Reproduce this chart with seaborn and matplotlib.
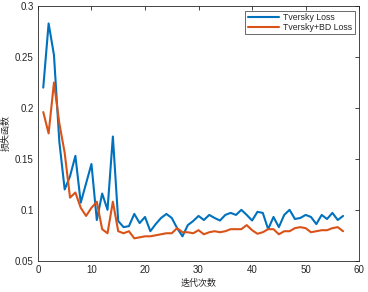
import pandas as pd
import numpy as np
import matplotlib.pyplot as plt
import seaborn as sns

epochs = list(range(1, 58))

tversky = [0.220, 0.283, 0.252, 0.167, 0.120, 0.133, 0.153, 0.107, 0.126, 0.145,
           0.090, 0.116, 0.100, 0.172, 0.089, 0.083, 0.084, 0.096, 0.087, 0.093,
           0.079, 0.086, 0.092, 0.096, 0.092, 0.082, 0.074, 0.085, 0.089, 0.094,
           0.090, 0.095, 0.092, 0.0895, 0.095, 0.097, 0.095, 0.100, 0.095, 0.0895,
           0.098, 0.097, 0.081, 0.093, 0.083, 0.095, 0.100, 0.091, 0.092, 0.095,
           0.093, 0.086, 0.095, 0.091, 0.097, 0.090, 0.094]

tversky_bd = [0.196, 0.175, 0.225, 0.185, 0.156, 0.112, 0.117, 0.102, 0.094, 0.102,
              0.108, 0.081, 0.077, 0.108, 0.079, 0.077, 0.079, 0.072, 0.073, 0.074,
              0.074, 0.075, 0.076, 0.077, 0.077, 0.082, 0.078, 0.078, 0.077, 0.080,
              0.076, 0.078, 0.079, 0.078, 0.079, 0.081, 0.081, 0.081, 0.085, 0.080,
              0.0765, 0.078, 0.081, 0.081, 0.076, 0.079, 0.079, 0.082, 0.083, 0.082,
              0.078, 0.079, 0.080, 0.080, 0.082, 0.083, 0.079]

series_names = ['Tversky Loss', 'Tversky+BD Loss']

df = pd.DataFrame({
    'epoch': epochs * 2,
    'loss': tversky + tversky_bd,
    'serie': [series_names[0]] * len(epochs) + [series_names[1]] * len(epochs),
})

sns.set_style('white')
plt.rcParams['font.family'] = ['Liberation Sans', 'Noto Sans CJK SC', 'DejaVu Sans']

fig = plt.figure(figsize=(3.68, 2.92), dpi=100)
ax = fig.add_axes([0.103, 0.107, 0.873, 0.872])

sns.lineplot(data=df, x='epoch', y='loss', hue='serie',
             palette=['#0072BD', '#D95319'], linewidth=1.5, ax=ax)

ax.set_xlim(0, 60)
ax.set_ylim(0.05, 0.3)
ax.set_xticks([0, 10, 20, 30, 40, 50, 60])
ax.set_yticks([0.05, 0.1, 0.15, 0.2, 0.25, 0.3])
ax.set_yticklabels(['0.05', '0.1', '0.15', '0.2', '0.25', '0.3'])
ax.tick_params(direction='in', length=3, width=0.6, colors='#262626',
               labelsize=7, top=True, right=True, pad=3)
for s in ax.spines.values():
    s.set_color('#262626')
    s.set_linewidth(0.6)

ax.set_xlabel('迭代次数', fontsize=6.5, family=['Noto Sans CJK SC'], labelpad=3)
ax.set_ylabel('损失函数', fontsize=6.5, family=['Noto Sans CJK SC'], labelpad=3)

leg = ax.legend(loc='upper right', fontsize=6.3, frameon=True, fancybox=False,
                edgecolor='#262626', handlelength=3.6, borderpad=0.25,
                labelspacing=0.1, handletextpad=0.5, borderaxespad=0.5)
leg.get_frame().set_linewidth(0.6)

fig.savefig('out.png', dpi=100)
